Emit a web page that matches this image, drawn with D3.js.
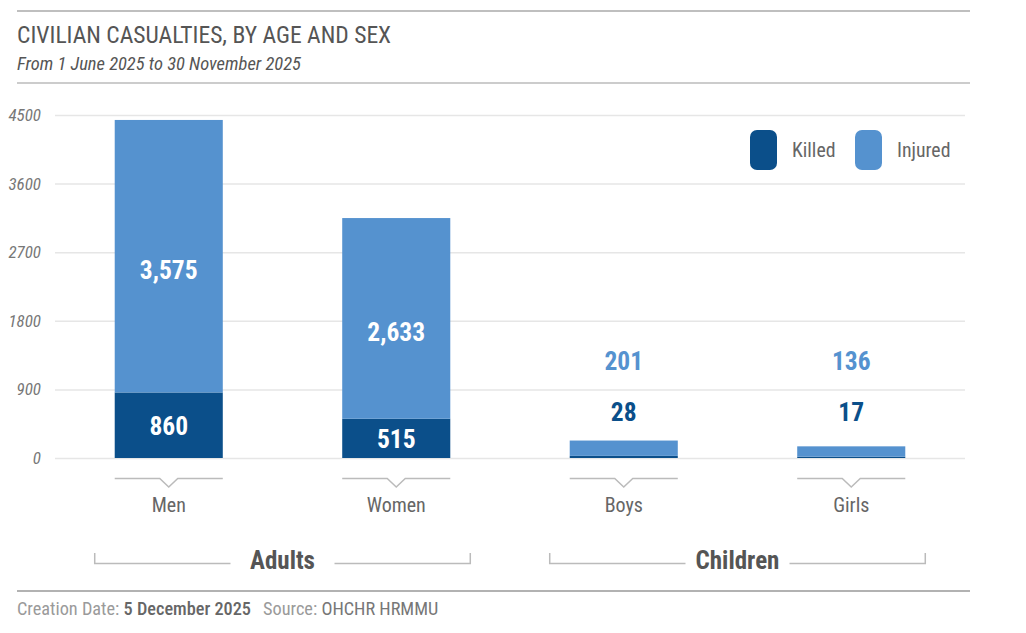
<!DOCTYPE html>
<html>
    <head>
        <meta charset="utf-8">
        <script src="https://d3js.org/d3.v7.min.js"></script>
        <style>
            body { margin: 0; background: #fff; }
            text { font-family: "Roboto Condensed", "Liberation Sans Narrow", "DejaVu Sans Condensed", Roboto, sans-serif; }
        </style>
    </head>
    <body>
        <div id="chart"></div>
        <script>
            // data
            var categories = ["Men", "Women", "Boys", "Girls"];
            var killed = [860, 515, 28, 17];
            var injured = [3575, 2633, 201, 136];
            var yTicks = [0, 900, 1800, 2700, 3600, 4500];
            var groups = ["Adults", "Children"];
            var groupMembers = [["Men", "Women"], ["Boys", "Girls"]];

            var width = 1026, height = 633;
            var killedColor = "#0b4f8a", injuredColor = "#5592cf";

            var svg = d3.select("#chart").append("svg")
                .attr("width", width)
                .attr("height", height);

            // header
            svg.append("line").attr("x1", 17).attr("x2", 970).attr("y1", 11).attr("y2", 11)
                .attr("stroke", "#aaa").attr("stroke-width", 1.5);
            svg.append("text").attr("x", 17).attr("y", 43)
                .attr("font-size", 23.6).attr("fill", "#555")
                .text("CIVILIAN CASUALTIES, BY AGE AND SEX");
            svg.append("text").attr("x", 17).attr("y", 70)
                .attr("font-size", 18.5).attr("font-style", "italic").attr("fill", "#555")
                .text("From 1 June 2025 to 30 November 2025");
            svg.append("line").attr("x1", 17).attr("x2", 970).attr("y1", 83).attr("y2", 83)
                .attr("stroke", "#bbb").attr("stroke-width", 1.5);

            // scales
            var x = d3.scaleBand().domain(categories).range([55, 965])
                .paddingInner(0.525).paddingOuter(0.2625);
            var y = d3.scaleLinear().domain([0, 4500]).range([458, 115]);

            // grid + y labels
            var yAxis = svg.append("g").attr("transform", "translate(55,0)")
                .call(d3.axisLeft(y).tickValues(yTicks).tickSize(-910).tickFormat(d3.format("d")).tickPadding(14));
            yAxis.select(".domain").remove();
            yAxis.selectAll(".tick line").attr("stroke", "#e6e6e6").attr("stroke-width", 1.5);
            yAxis.selectAll(".tick text").attr("fill", "#777").attr("font-size", 17)
                .attr("font-style", "italic")
                .style("font-family", '"Roboto Condensed", "Liberation Sans Narrow", "DejaVu Sans Condensed", Roboto, sans-serif');

            var rows = categories.map(function(c, i) {
                return { cat: c, killed: killed[i], injured: injured[i] };
            });

            // bars
            var bars = svg.append("g");
            bars.selectAll("rect.k").data(rows).join("rect").attr("class", "k")
                .attr("x", d => x(d.cat)).attr("width", x.bandwidth())
                .attr("y", d => y(d.killed)).attr("height", d => y(0) - y(d.killed))
                .attr("fill", killedColor);
            bars.selectAll("rect.i").data(rows).join("rect").attr("class", "i")
                .attr("x", d => x(d.cat)).attr("width", x.bandwidth())
                .attr("y", d => y(d.killed + d.injured)).attr("height", d => y(d.killed) - y(d.killed + d.injured))
                .attr("fill", injuredColor);

            // value labels
            var fmt = d3.format(",");
            var labels = svg.append("g").attr("text-anchor", "middle").attr("font-weight", "bold").attr("font-size", 25.5);
            rows.forEach(function(d) {
                var cx = x(d.cat) + x.bandwidth() / 2;
                if (d.injured > 1000) {
                    labels.append("text").attr("x", cx).attr("y", (y(d.killed) + y(d.killed + d.injured)) / 2 + 23)
                        .attr("fill", "#fff").text(fmt(d.injured));
                    labels.append("text").attr("x", cx).attr("y", (y(0) + y(d.killed)) / 2 + 10)
                        .attr("fill", "#fff").text(fmt(d.killed));
                } else {
                    labels.append("text").attr("x", cx).attr("y", 370)
                        .attr("fill", injuredColor).text(fmt(d.injured));
                    labels.append("text").attr("x", cx).attr("y", 421)
                        .attr("fill", killedColor).text(fmt(d.killed));
                }
            });

            // category brackets
            var cat = svg.append("g").selectAll("g").data(categories).join("g")
                .attr("transform", d => "translate(" + (x(d) + x.bandwidth() / 2) + ",0)");
            cat.append("path")
                .attr("d", "M" + (-x.bandwidth() / 2) + ",478.5 H-9 L0,487 L9,478.5 H" + (x.bandwidth() / 2))
                .attr("fill", "none").attr("stroke", "#bbb").attr("stroke-width", 1.5);
            cat.append("text").attr("y", 512).attr("text-anchor", "middle")
                .attr("font-size", 20).attr("fill", "#666").text(d => d);

            // group brackets
            groups.forEach(function(g, i) {
                var m = groupMembers[i];
                var x0 = x(m[0]) - 20, x1 = x(m[m.length - 1]) + x.bandwidth() + 20;
                var cx = (x0 + x1) / 2;
                var gg = svg.append("g");
                gg.append("text").attr("x", cx).attr("y", 569).attr("text-anchor", "middle")
                    .attr("font-size", 25).attr("font-weight", "bold").attr("fill", "#555").text(g);
                var half = 52;
                gg.append("path")
                    .attr("d", "M" + x0 + ",553 V563.5 H" + (cx - half) + " M" + (cx + half) + ",563.5 H" + x1 + " V553")
                    .attr("fill", "none").attr("stroke", "#bbb").attr("stroke-width", 1.5);
            });

            // legend
            var legendItems = [["Killed", killedColor, 750], ["Injured", injuredColor, 855]];
            var lg = svg.append("g");
            legendItems.forEach(function(l) {
                lg.append("rect").attr("x", l[2]).attr("y", 130).attr("width", 27).attr("height", 40)
                    .attr("rx", 7).attr("fill", l[1]);
                lg.append("text").attr("x", l[2] + 42).attr("y", 157).attr("font-size", 19.8)
                    .attr("fill", "#666").text(l[0]);
            });

            // footer
            svg.append("line").attr("x1", 17).attr("x2", 970).attr("y1", 591).attr("y2", 591)
                .attr("stroke", "#999").attr("stroke-width", 1.5);
            var foot = svg.append("text").attr("x", 17).attr("y", 615).attr("font-size", 18.3);
            foot.append("tspan").attr("fill", "#9a9a9a").text("Creation Date: ");
            foot.append("tspan").attr("fill", "#666").attr("font-weight", 500).text("5 December 2025");
            foot.append("tspan").attr("fill", "#9a9a9a").attr("dx", 12).text("Source: ");
            foot.append("tspan").attr("fill", "#777").text("OHCHR HRMMU");
        </script>
    </body>
</html>
